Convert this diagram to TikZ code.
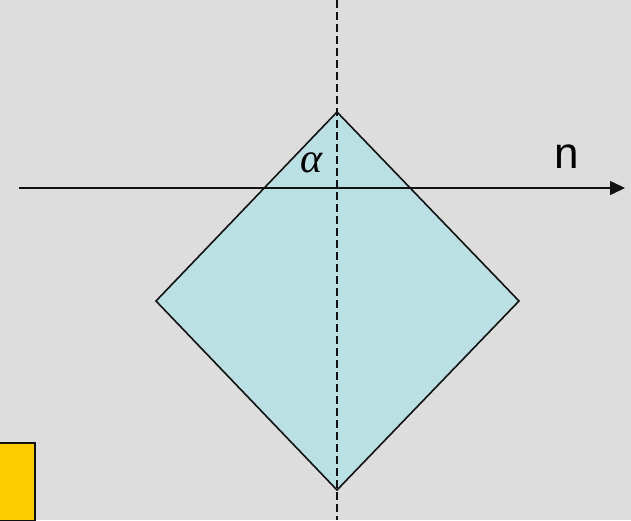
\documentclass[tikz,border=0pt]{standalone}
\usepackage{fontspec}
\newfontfamily\labelfont{Liberation Sans}
\newfontfamily\anglefont{Liberation Serif}
\usetikzlibrary{arrows.meta}
\definecolor{Canvas}{HTML}{DDDDDD}
\definecolor{Ice}{HTML}{BAE0E3}
\definecolor{Amber}{HTML}{FFCC00}
\definecolor{Ink}{HTML}{111111}
\tikzset{
  facet/.style={draw=Ink, line width=1.6pt, fill=Ice, line join=miter},
  axis/.style={-{Triangle[length=15pt,width=14pt]}, line width=1.6pt, draw=Ink},
  normal/.style={draw=Ink, line width=1.6pt, dash pattern=on 8pt off 4pt},
  symbol/.style={inner sep=0pt, font=\anglefont\itshape\fontsize{42}{42}\selectfont},
  axislabel/.style={inner sep=0pt, font=\labelfont\fontsize{44}{44}\selectfont},
  notebox/.style={draw=Ink, line width=2pt, fill=Amber,
    minimum width=38pt, minimum height=78pt, inner sep=0pt}
}
\begin{document}
\begin{tikzpicture}[x=1pt,y=-1pt]
    \fill[Canvas] (0,0) rectangle (631,520);
    \clip (0,0) rectangle (631,520);
    % the square seen edge-on
    \coordinate (apex) at (337,112);
    \coordinate (east) at (519,301);
    \coordinate (foot) at (337,490);
    \coordinate (west) at (156,301);
    \filldraw[facet] (apex)--(east)--(foot)--(west)--cycle;
    % dashed normal and the n axis
    \coordinate (ntop) at (337,0);
    \coordinate (nbot) at (337,520);
    \draw[normal] (ntop)--(nbot);
    \coordinate (xin) at (19,188);
    \coordinate (xout) at (625,188);
    \draw[axis] (xin)--(xout);
    \node[symbol] (alpha) at (312,163) {α};
    \node[axislabel] (n) at (567,157) {n};
    \node[notebox,anchor=south east] (note) at (36,522) {};
  \end{tikzpicture}
\end{document}
